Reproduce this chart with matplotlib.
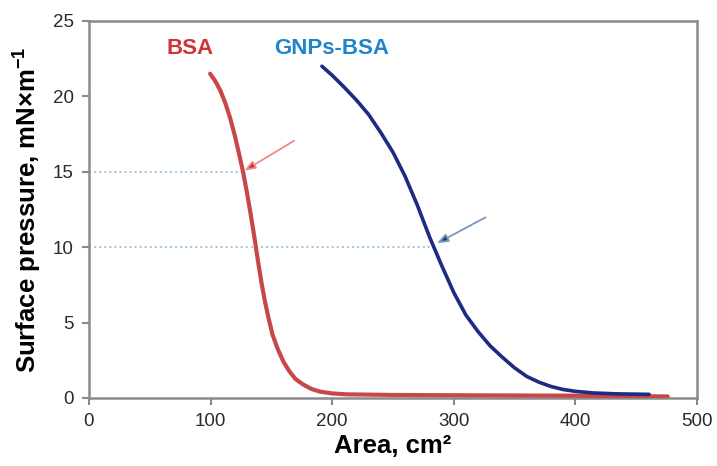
import matplotlib
matplotlib.use("Agg")
import matplotlib.pyplot as plt

plt.rcParams["font.family"] = ["Liberation Sans", "DejaVu Sans"]
plt.rcParams["mathtext.fontset"] = "custom"
plt.rcParams["mathtext.rm"] = "Liberation Sans"
plt.rcParams["mathtext.bf"] = "Liberation Sans:bold"

# Surface pressure isotherms (area in cm^2, pressure in mN/m)
bsa_area = [99.7, 104, 108, 112, 116, 120, 124, 127, 130, 133, 136, 139, 142,
            145, 148, 151, 155, 160, 165, 170, 176, 183, 190, 200, 212, 250,
            300, 400, 476]
bsa_pressure = [21.5, 21.0, 20.4, 19.6, 18.6, 17.4, 16.0, 14.9, 13.6, 12.2,
                10.7, 9.1, 7.6, 6.3, 5.2, 4.2, 3.3, 2.4, 1.75, 1.25, 0.9, 0.6,
                0.42, 0.3, 0.24, 0.2, 0.18, 0.15, 0.1]

gnp_area = [191.6, 200, 210, 220, 230, 240, 250, 260, 270, 280, 290, 300, 310,
            320, 330, 340, 350, 360, 370, 380, 390, 400, 415, 435, 460.7]
gnp_pressure = [22.0, 21.4, 20.6, 19.75, 18.8, 17.6, 16.3, 14.7, 12.8, 10.7,
                8.8, 7.0, 5.5, 4.4, 3.45, 2.7, 2.0, 1.43, 1.05, 0.76, 0.56,
                0.44, 0.33, 0.27, 0.24]

# Reference pressures marked with dotted guides and arrows
bsa_mark = (127.0, 15.0)
gnp_mark = (283.6, 10.0)
bsa_arrow_tail = (168.8, 17.06)
bsa_arrow_tip = (127.8, 15.07)
gnp_arrow_tail = (326.2, 11.98)
gnp_arrow_tip = (286.3, 10.26)

x_ticks = [0, 100, 200, 300, 400, 500]
y_ticks = [0, 5, 10, 15, 20, 25]

red = "#c8484a"
navy = "#1f2a82"
guide = "#9cc6e6"
spine = "#8a8a8a"

fig = plt.figure(figsize=(7.17, 4.66), dpi=100)
ax = fig.add_axes([0.124, 0.146, 0.848, 0.809])

ax.plot([0, bsa_mark[0]], [bsa_mark[1]] * 2, ls=(0, (1.2, 1.6)), color=guide, lw=1.3, zorder=1)
ax.plot([0, gnp_mark[0]], [gnp_mark[1]] * 2, ls=(0, (1.2, 1.6)), color=guide, lw=1.3, zorder=1)

ax.plot(bsa_area, bsa_pressure, color=red, lw=3.0, solid_capstyle="round",
        solid_joinstyle="round", zorder=3)
ax.plot(gnp_area, gnp_pressure, color=navy, lw=2.6, solid_capstyle="round",
        solid_joinstyle="round", zorder=3)

ax.annotate("", xy=bsa_arrow_tip, xytext=bsa_arrow_tail,
            arrowprops=dict(arrowstyle="-|>,head_length=0.65,head_width=0.25",
                            ec="#f08a8a", fc="#d02828", lw=1.3, shrinkA=0, shrinkB=0),
            zorder=4)
ax.annotate("", xy=gnp_arrow_tip, xytext=gnp_arrow_tail,
            arrowprops=dict(arrowstyle="-|>,head_length=0.65,head_width=0.25",
                            ec="#7a98bc", fc="#1f3c80", lw=1.3, shrinkA=0, shrinkB=0),
            zorder=4)

ax.text(83, 23.2, "BSA", color="#d03535", fontsize=16, fontweight="bold",
        ha="center", va="center")
ax.text(200, 23.2, "GNPs-BSA", color="#2383c9", fontsize=16, fontweight="bold",
        ha="center", va="center")

ax.set_xlim(0, 500)
ax.set_ylim(0, 25)
ax.set_xticks(x_ticks)
ax.set_yticks(y_ticks)
ax.tick_params(axis="both", direction="out", length=5, width=1.5, color=spine,
               labelsize=13.5, labelcolor="#2a2a2a", pad=6)

for s in ax.spines.values():
    s.set_color(spine)
    s.set_linewidth(1.8)

ax.set_xlabel("Area, cm²", fontsize=18.5, fontweight="bold", labelpad=3)
ax.set_ylabel("Surface pressure, mN×m$^{\\mathbf{-1}}$", fontsize=18.5,
              fontweight="bold", labelpad=7)

fig.savefig("out.png", dpi=100)
